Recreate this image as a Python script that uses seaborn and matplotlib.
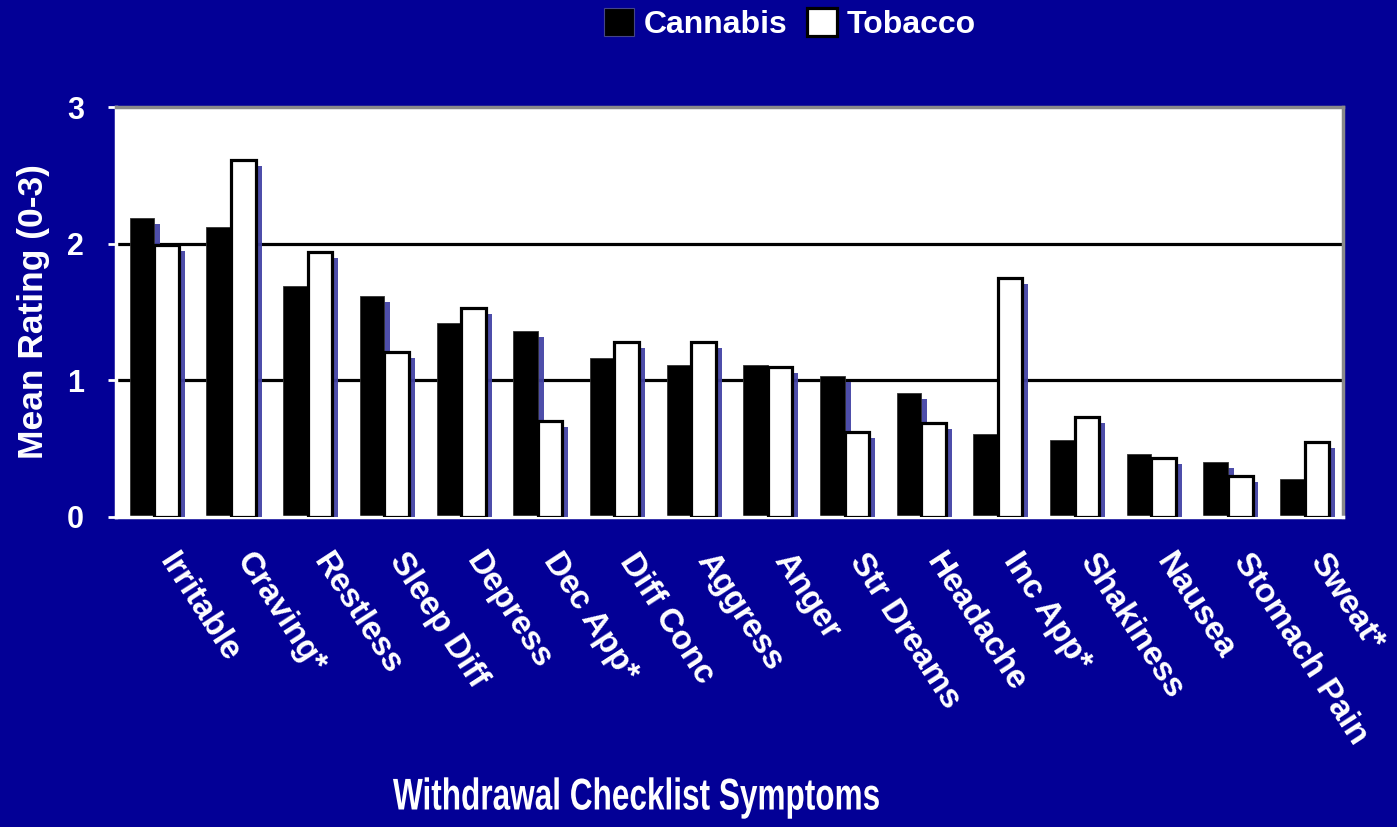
import matplotlib
matplotlib.use("Agg")
import matplotlib.pyplot as plt
import matplotlib.patheffects as pe
from matplotlib.patches import Patch
from matplotlib.transforms import ScaledTranslation, Affine2D
import numpy as np
import pandas as pd
import seaborn as sns

# Withdrawal checklist symptoms, mean rating (0-3)
symptoms = ["Irritable", "Craving*", "Restless", "Sleep Diff", "Depress",
            "Dec App*", "Diff Conc", "Aggress", "Anger", "Str Dreams",
            "Headache", "Inc App*", "Shakiness", "Nausea", "Stomach Pain",
            "Sweat*"]
cannabis = [2.19, 2.12, 1.69, 1.62, 1.42, 1.36, 1.16, 1.11, 1.11, 1.03,
            0.91, 0.61, 0.56, 0.46, 0.40, 0.28]
tobacco = [1.99, 2.61, 1.94, 1.21, 1.53, 0.70, 1.28, 1.28, 1.10, 0.62,
           0.69, 1.75, 0.73, 0.43, 0.30, 0.55]
series_names = ["Cannabis", "Tobacco"]
y_ticks = [0, 1, 2, 3]

BG = "#030096"
SHADOW = "#4444a6"


class Squeeze(pe.AbstractPathEffect):
    """Compress glyph outlines horizontally around a fixed display x."""

    def __init__(self, sx, cx):
        super().__init__()
        self.sx = sx
        self.cx = cx

    def draw_path(self, renderer, gc, tpath, affine, rgbFace=None):
        squeeze = Affine2D().translate(-self.cx, 0).scale(self.sx, 1).translate(self.cx, 0)
        renderer.draw_path(gc, tpath, affine + squeeze, rgbFace)


sns.set_theme(style="white")
plt.rcParams["font.family"] = ["Liberation Sans", "DejaVu Sans"]
plt.rcParams["font.weight"] = "bold"

df = pd.DataFrame({
    "Symptom": symptoms * 2,
    "Rating": cannabis + tobacco,
    "Drug": [series_names[0]] * len(symptoms) + [series_names[1]] * len(symptoms),
})

fig = plt.figure(figsize=(13.97, 8.27), dpi=100, facecolor=BG)
ax = fig.add_axes([116 / 1397, 1 - 517 / 827, (1343 - 116) / 1397, (517 - 107) / 827])
ax.set_facecolor("white")

sns.barplot(data=df, x="Symptom", y="Rating", hue="Drug", order=symptoms,
            hue_order=series_names, palette=["black", "white"], width=0.64,
            saturation=1, errorbar=None, legend=False, ax=ax)

n = len(symptoms)
shadow = [pe.SimplePatchShadow(offset=(4.3, -4.3), shadow_rgbFace=SHADOW, alpha=0.95),
          pe.Normal()]
for i, bar in enumerate(ax.patches):
    if i < n:
        bar.set_edgecolor("#333333")
        bar.set_linewidth(0.6)
        bar.set_zorder(2)
    else:
        bar.set_edgecolor("black")
        bar.set_linewidth(2.3)
        bar.set_zorder(3)
    bar.set_path_effects(shadow)

ax.set_ylim(0, 3)
ax.set_xlim(-0.5, n - 0.5)
ax.set_yticks(y_ticks)
ax.set_yticklabels([str(t) for t in y_ticks], color="white", fontsize=22, fontweight="bold")
for y in (1, 2):
    ax.axhline(y, color="black", lw=2.3, zorder=1)

ax.set_xticks(range(n))
ax.set_xticks(np.arange(-0.5, n, 1.0), minor=True)
ax.tick_params(axis="x", which="major", length=0, pad=22)
ax.tick_params(axis="x", which="minor", length=6, width=2, color="white", direction="out")
ax.tick_params(axis="y", which="major", length=6, width=2, color="white",
               direction="out", pad=17, left=True)
ax.set_xticklabels(symptoms, rotation=-57, ha="left", va="top",
                   rotation_mode="anchor", color="white", fontsize=24,
                   fontweight="bold")
shift = ScaledTranslation(18 / 72, 0, fig.dpi_scale_trans)
for lab in ax.get_xticklabels():
    lab.set_transform(lab.get_transform() + shift)

ax.set_xlabel("")
ax.set_ylabel("Mean Rating (0-3)", color="white", fontsize=25.5,
              fontweight="bold", labelpad=12)

for side in ("left", "bottom"):
    ax.spines[side].set_color("white")
    ax.spines[side].set_linewidth(2.5)
for side in ("top", "right"):
    ax.spines[side].set_color("#8a8a8a")
    ax.spines[side].set_linewidth(2.5)

title_x = 637
fig.text(title_x / 1397, 1 - 798 / 827, "Withdrawal Checklist Symptoms",
         ha="center", va="center", color="white", fontsize=32,
         fontweight="bold",
         path_effects=[Squeeze(0.71, title_x * fig.dpi / 100)])

handles = [Patch(facecolor="black", edgecolor="#444488", linewidth=0.8),
           Patch(facecolor="white", edgecolor="black", linewidth=2.3)]
leg = fig.legend(handles, series_names, loc="center", ncol=2,
                 bbox_to_anchor=(790 / 1397, 1 - 24 / 827), frameon=False,
                 handlelength=0.95, handleheight=1.0, handletextpad=0.3,
                 columnspacing=0.6, prop={"size": 23, "weight": "bold"})
for t in leg.get_texts():
    t.set_color("white")

fig.savefig("out.png", dpi=100, facecolor=BG)
